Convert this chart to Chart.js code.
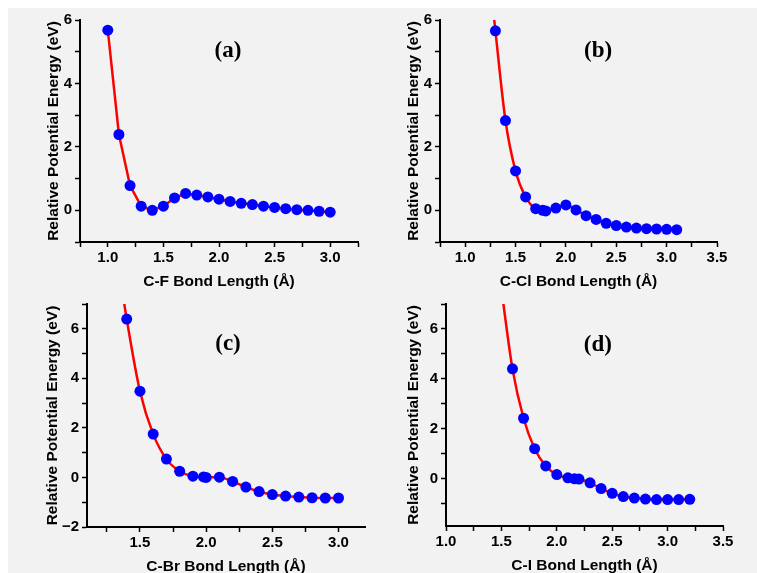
<!DOCTYPE html>
<html>
<head>
<meta charset="utf-8">
<script src="https://cdn.jsdelivr.net/npm/chart.js@4.4.1/dist/chart.umd.min.js"></script>
<style>
  html, body { margin: 0; padding: 0; background: #fff; overflow: hidden; width: 757px; height: 573px; }
  #sheet { position: absolute; left: 8px; top: 8px; width: 749px; height: 565px; background: #f2f2f2; }
  canvas { position: absolute; }
</style>
</head>
<body>
<div id="sheet"></div>
<canvas id="chartA" style="left:8px;top:8px" width="372" height="284"></canvas>
<canvas id="chartB" style="left:380px;top:8px" width="377" height="284"></canvas>
<canvas id="chartC" style="left:8px;top:292px" width="372" height="284"></canvas>
<canvas id="chartD" style="left:380px;top:292px" width="377" height="284"></canvas>
<script>
// (a) C-F
const bondCF = [1.0, 1.1, 1.2, 1.3, 1.4, 1.5, 1.6, 1.7, 1.8, 1.9, 2.0, 2.1, 2.2, 2.3, 2.4, 2.5, 2.6, 2.7, 2.8, 2.9, 3.0];
const energyCF = [5.68, 2.39, 0.78, 0.13, 0.0, 0.13, 0.39, 0.53, 0.48, 0.42, 0.35, 0.28, 0.22, 0.18, 0.13, 0.09, 0.05, 0.02, 0.0, -0.03, -0.06];

// (b) C-Cl
const bondCCl = [1.3, 1.4, 1.5, 1.6, 1.7, 1.77, 1.8, 1.9, 2.0, 2.1, 2.2, 2.3, 2.4, 2.5, 2.6, 2.7, 2.8, 2.9, 3.0, 3.1];
const energyCCl = [5.66, 2.83, 1.24, 0.42, 0.05, 0.0, -0.02, 0.07, 0.17, 0.01, -0.17, -0.29, -0.41, -0.48, -0.53, -0.56, -0.58, -0.59, -0.6, -0.61];
const leadCCl = [1.28, 6.25]; // fitted curve leaving the top of the frame

// (c) C-Br
const bondCBr = [1.4, 1.5, 1.6, 1.7, 1.8, 1.9, 1.98, 2.0, 2.1, 2.2, 2.3, 2.4, 2.5, 2.6, 2.7, 2.8, 2.9, 3.0];
const energyCBr = [6.39, 3.48, 1.75, 0.74, 0.25, 0.05, 0.02, 0.0, 0.01, -0.16, -0.39, -0.57, -0.69, -0.75, -0.79, -0.82, -0.83, -0.83];
const leadCBr = [1.37, 7.4];

// (d) C-I
const bondCI = [1.6, 1.7, 1.8, 1.9, 2.0, 2.1, 2.16, 2.2, 2.3, 2.4, 2.5, 2.6, 2.7, 2.8, 2.9, 3.0, 3.1, 3.2];
const energyCI = [4.40, 2.42, 1.20, 0.51, 0.16, 0.03, -0.01, -0.02, -0.17, -0.40, -0.59, -0.72, -0.78, -0.82, -0.84, -0.84, -0.84, -0.83];
const leadCI = [1.5, 7.6];

// ticks
const xTicksA = [0.75, 1.0, 1.25, 1.5, 1.75, 2.0, 2.25, 2.5, 2.75, 3.0, 3.25];
const xLabelsA = [1.0, 1.5, 2.0, 2.5, 3.0];
const xTicksB = [0.75, 1.0, 1.25, 1.5, 1.75, 2.0, 2.25, 2.5, 2.75, 3.0, 3.25, 3.5];
const xLabelsB = [1.0, 1.5, 2.0, 2.5, 3.0, 3.5];
const xTicksC = [1.25, 1.5, 1.75, 2.0, 2.25, 2.5, 2.75, 3.0];
const xLabelsC = [1.5, 2.0, 2.5, 3.0];
const xTicksD = [1.0, 1.25, 1.5, 1.75, 2.0, 2.25, 2.5, 2.75, 3.0, 3.25, 3.5];
const xLabelsD = [1.0, 1.5, 2.0, 2.5, 3.0, 3.5];
const yTicksAB = [-1, 0, 1, 2, 3, 4, 5, 6];
const yLabelsAB = [0, 2, 4, 6];
const yTicksC = [-2, -1, 0, 1, 2, 3, 4, 5, 6, 7];
const yLabelsC = [-2, 0, 2, 4, 6];
const yTicksD = [-1, 0, 1, 2, 3, 4, 5, 6, 7];
const yLabelsD = [0, 2, 4, 6];

const tickFont = { family: '"Liberation Sans", Arial, sans-serif', size: 15, weight: 'bold' };
const titleFont = { family: '"Liberation Sans", Arial, sans-serif', size: 15.5, weight: 'bold', lineHeight: 1.2 };

const panelTag = {
    id: "panelTag",
    afterDatasetsDraw(chart, args, opts) {
        const ctx = chart.ctx;
        ctx.save();
        ctx.font = 'bold 23px "Liberation Serif", "Times New Roman", serif';
        ctx.fillStyle = "#000";
        ctx.textAlign = "center";
        ctx.textBaseline = "middle";
        ctx.fillText(opts.text, chart.scales.x.getPixelForValue(opts.x), chart.scales.y.getPixelForValue(opts.y));
        ctx.restore();
    }
};

function has(list, v) {
    return list.some(function (t) { return Math.abs(t - v) < 1e-6; });
}

function makePanel(id, p) {
    const points = p.bond.map(function (b, i) { return { x: b, y: p.energy[i] }; });
    const curve = (p.lead ? [{ x: p.lead[0], y: p.lead[1] }] : []).concat(points);
    new Chart(document.getElementById(id), {
        type: "scatter",
        data: {
            datasets: [
                {
                    data: points,
                    backgroundColor: "#0000ff",
                    borderColor: "#0000ff",
                    pointRadius: 5.5,
                    borderWidth: 0,
                    order: 0,
                },
                {
                    data: curve,
                    showLine: true,
                    borderColor: "#ff0000",
                    borderWidth: 2.5,
                    pointRadius: 0,
                    tension: p.smooth ? 0.4 : 0,
                    cubicInterpolationMode: p.smooth ? "monotone" : "default",
                    clip: 0,
                    order: 1,
                },
            ],
        },
        options: {
            responsive: false,
            animation: false,
            events: [],
            layout: { padding: { left: p.pad[0], top: p.pad[1], right: p.pad[2], bottom: p.pad[3] } },
            plugins: {
                legend: { display: false },
                tooltip: { enabled: false },
                panelTag: { text: p.tag, x: p.tagAt[0], y: p.tagAt[1] },
            },
            scales: {
                x: {
                    type: "linear",
                    min: p.xRange[0],
                    max: p.xRange[1],
                    afterBuildTicks: function (s) { s.ticks = p.xTicks.map(function (v) { return { value: v }; }); },
                    afterFit: function (s) { s.height = p.xHeight; },
                    ticks: {
                        autoSkip: false,
                        maxRotation: 0,
                        padding: 2,
                        color: "#000",
                        font: tickFont,
                        callback: function (v) { return has(p.xLabels, v) ? v.toFixed(1) : ""; },
                    },
                    grid: { drawOnChartArea: false, tickLength: 5, tickColor: "#000", tickWidth: 1.5 },
                    border: { color: "#000", width: 2 },
                    title: { display: true, text: p.xTitle, color: "#000", font: titleFont, padding: 0 },
                },
                y: {
                    type: "linear",
                    min: p.yRange[0],
                    max: p.yRange[1],
                    afterBuildTicks: function (s) { s.ticks = p.yTicks.map(function (v) { return { value: v }; }); },
                    afterFit: function (s) { s.width = p.yWidth; },
                    ticks: {
                        autoSkip: false,
                        padding: 3,
                        color: "#000",
                        font: tickFont,
                        callback: function (v) {
                            if (!has(p.yLabels, v)) return "";
                            return v < 0 ? "\u2212" + Math.abs(v) : String(v);
                        },
                    },
                    grid: { drawOnChartArea: false, tickLength: 5, tickColor: "#000", tickWidth: 1.5 },
                    border: { color: "#000", width: 2 },
                    title: { display: true, text: "Relative Potential Energy (eV)", color: "#000", font: titleFont, padding: 0 },
                },
            },
        },
        plugins: [panelTag],
    });
}

makePanel("chartA", {
    bond: bondCF, energy: energyCF, lead: null, smooth: false,
    xRange: [0.75, 3.25], yRange: [-1, 6],
    xTicks: xTicksA, xLabels: xLabelsA, yTicks: yTicksAB, yLabels: yLabelsAB,
    xTitle: "C-F Bond Length (\u00C5)", tag: "(a)", tagAt: [2.08, 5.03],
    pad: [36.6, 11, 22, 0.6], yWidth: 35.4, xHeight: 49.4,
});
makePanel("chartB", {
    bond: bondCCl, energy: energyCCl, lead: leadCCl, smooth: true,
    xRange: [0.75, 3.5], yRange: [-1, 6],
    xTicks: xTicksB, xLabels: xLabelsB, yTicks: yTicksAB, yLabels: yLabelsAB,
    xTitle: "C-Cl Bond Length (\u00C5)", tag: "(b)", tagAt: [2.32, 5.03],
    pad: [24.1, 11, 40, 0.6], yWidth: 35.9, xHeight: 49.4,
});
makePanel("chartC", {
    bond: bondCBr, energy: energyCBr, lead: leadCBr, smooth: true,
    xRange: [1.1, 3.2], yRange: [-2, 7],
    xTicks: xTicksC, xLabels: xLabelsC, yTicks: yTicksC, yLabels: yLabelsC,
    xTitle: "C-Br Bond Length (\u00C5)", tag: "(c)", tagAt: [2.165, 5.39],
    pad: [35.6, 11, 15, 0.1], yWidth: 43.4, xHeight: 48.9,
});
makePanel("chartD", {
    bond: bondCI, energy: energyCI, lead: leadCI, smooth: true,
    xRange: [1.0, 3.5], yRange: [-1.9, 7],
    xTicks: xTicksD, xLabels: xLabelsD, yTicks: yTicksD, yLabels: yLabelsD,
    xTitle: "C-I Bond Length (\u00C5)", tag: "(d)", tagAt: [2.37, 5.37],
    pad: [24.6, 10, 34, 0.6], yWidth: 41.4, xHeight: 49.4,
});
</script>
</body>
</html>
